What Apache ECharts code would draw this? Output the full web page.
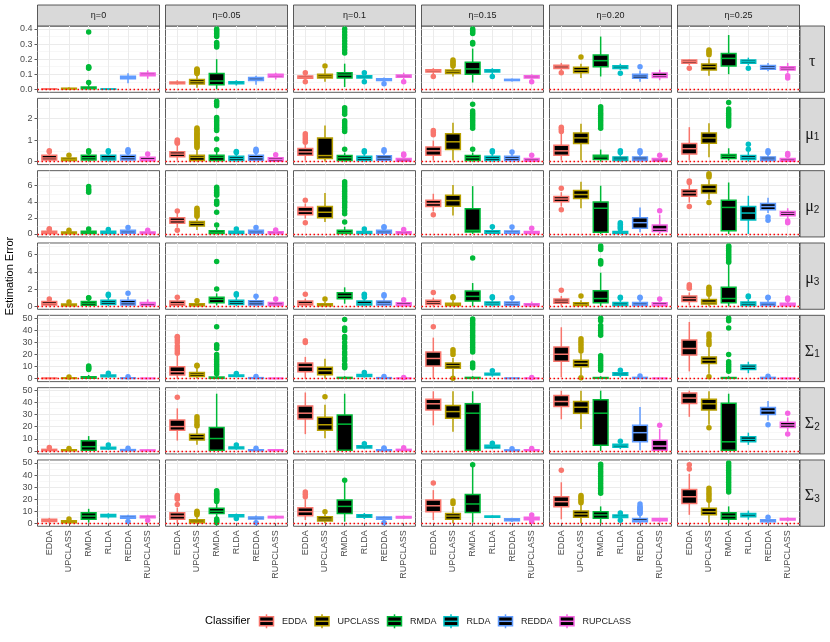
<!DOCTYPE html>
<html>
<head>
<meta charset="utf-8">
<script src="https://cdn.jsdelivr.net/npm/echarts@6/dist/echarts.min.js"></script>
<style>
  html, body { margin: 0; padding: 0; background: #fff; }
  #chart { width: 830px; height: 642px; }
</style>
</head>
<body>
<div id="chart"></div>
<script>
// categories
const classifiers = ['EDDA', 'UPCLASS', 'RMDA', 'RLDA', 'REDDA', 'RUPCLASS'];
const etaLabels = ['η=0', 'η=0.05', 'η=0.1', 'η=0.15', 'η=0.20', 'η=0.25'];
const paramLabels = ['{g|τ}', '{g|μ}{s|1}', '{g|μ}{s|2}', '{g|μ}{s|3}', '{g|Σ}{s|1}', '{g|Σ}{s|2}', '{g|Σ}{s|3}'];

// tick labels per row
const tauTicks = [0, 0.1, 0.2, 0.3, 0.4];
const mu1Ticks = [0, 1, 2];
const mu2Ticks = [0, 2, 4, 6];
const mu3Ticks = [0, 2, 4, 6];
const sigmaTicks = [0, 10, 20, 30, 40, 50];

// boxes: per eta, per classifier [lower whisker, Q1, median, Q3, upper whisker]
const tauBoxes = [
  [[0, 0.001, 0.002, 0.003, 0.005], [0, 0.002, 0.004, 0.007, 0.014], [0, 0.003, 0.008, 0.015, 0.03], [0, 0, 0.001, 0.002, 0.003], [0.04, 0.07, 0.078, 0.087, 0.107], [0.07, 0.09, 0.1, 0.108, 0.125]],
  [[0.03, 0.037, 0.042, 0.048, 0.06], [0.01, 0.035, 0.05, 0.065, 0.1], [0, 0.03, 0.055, 0.105, 0.2], [0.025, 0.036, 0.042, 0.05, 0.06], [0.03, 0.058, 0.068, 0.078, 0.09], [0.065, 0.082, 0.09, 0.1, 0.11]],
  [[0.06, 0.073, 0.08, 0.088, 0.1], [0.05, 0.075, 0.087, 0.1, 0.135], [0.015, 0.075, 0.095, 0.11, 0.17], [0.06, 0.075, 0.082, 0.09, 0.1], [0.05, 0.058, 0.065, 0.07, 0.078], [0.065, 0.08, 0.088, 0.095, 0.11]],
  [[0.1, 0.115, 0.123, 0.13, 0.14], [0.085, 0.105, 0.117, 0.128, 0.145], [0.045, 0.1, 0.135, 0.18, 0.27], [0.1, 0.115, 0.122, 0.13, 0.14], [0.052, 0.058, 0.062, 0.066, 0.072], [0.06, 0.075, 0.082, 0.09, 0.1]],
  [[0.12, 0.138, 0.148, 0.16, 0.175], [0.075, 0.11, 0.128, 0.146, 0.17], [0.085, 0.15, 0.19, 0.227, 0.35], [0.128, 0.138, 0.148, 0.157, 0.17], [0.05, 0.073, 0.088, 0.1, 0.125], [0.06, 0.078, 0.09, 0.108, 0.13]],
  [[0.16, 0.172, 0.184, 0.194, 0.2], [0.09, 0.128, 0.15, 0.168, 0.205], [0.1, 0.155, 0.205, 0.238, 0.36], [0.16, 0.172, 0.183, 0.195, 0.21], [0.12, 0.133, 0.145, 0.158, 0.175], [0.11, 0.128, 0.14, 0.15, 0.175]]
];
const tauOutliers = [
  [[], [], [0.045, 0.14, 0.145, 0.15, 0.38], [], [], []],
  [[], [0.105, 0.11, 0.116, 0.12, 0.125, 0.13, 0.135], [0.28, 0.29, 0.3, 0.31, 0.35, 0.36, 0.37, 0.38, 0.39, 0.4], [], [], []],
  [[0.05, 0.11], [0.155], [0.24, 0.26, 0.28, 0.3, 0.32, 0.34, 0.36, 0.38, 0.4], [0.05, 0.11], [0.037], [0.05]],
  [[0.085], [0.155, 0.165, 0.175, 0.185, 0.195], [0.3, 0.31, 0.37, 0.38, 0.39, 0.4], [0.085], [], [0.05]],
  [[0.11], [0.215], [], [0.106], [0.15], []],
  [[0.14], [0.23, 0.24, 0.25, 0.26], [], [0.14], [], [0.075, 0.09]]
];

const mu1Boxes = [
  [[0, 0.08, 0.17, 0.3, 0.42], [0, 0.05, 0.1, 0.17, 0.27], [0, 0.08, 0.18, 0.3, 0.42], [0, 0.08, 0.17, 0.3, 0.42], [0, 0.08, 0.18, 0.3, 0.42], [0, 0.04, 0.1, 0.2, 0.3]],
  [[0.05, 0.23, 0.35, 0.46, 0.76], [0, 0.05, 0.2, 0.3, 0.62], [0, 0.05, 0.2, 0.3, 0.45], [0, 0.05, 0.15, 0.25, 0.38], [0, 0.06, 0.18, 0.3, 0.42], [0, 0.02, 0.1, 0.18, 0.28]],
  [[0.05, 0.3, 0.45, 0.61, 0.8], [0, 0.15, 0.28, 1.1, 1.68], [0, 0.05, 0.18, 0.28, 0.42], [0, 0.05, 0.15, 0.25, 0.38], [0, 0.06, 0.16, 0.27, 0.4], [0, 0.02, 0.08, 0.15, 0.25]],
  [[0.05, 0.3, 0.5, 0.68, 0.98], [0.05, 0.56, 0.92, 1.3, 1.8], [0, 0.05, 0.18, 0.28, 0.42], [0, 0.05, 0.15, 0.25, 0.38], [0, 0.05, 0.15, 0.25, 0.38], [0, 0.02, 0.07, 0.15, 0.25]],
  [[0.05, 0.3, 0.5, 0.76, 1.3], [0.05, 0.84, 1.1, 1.33, 1.76], [0, 0.1, 0.22, 0.3, 0.56], [0, 0.05, 0.12, 0.22, 0.35], [0, 0.05, 0.12, 0.22, 0.35], [0, 0.02, 0.08, 0.15, 0.25]],
  [[0.05, 0.35, 0.6, 0.84, 1.6], [0.2, 0.85, 1.1, 1.33, 1.78], [0.05, 0.15, 0.25, 0.33, 0.62], [0, 0.1, 0.18, 0.28, 0.45], [0, 0.05, 0.12, 0.22, 0.35], [0, 0.02, 0.07, 0.15, 0.25]]
];
const mu1Outliers = [
  [[0.46, 0.5], [0.3], [0.45, 0.5], [0.46, 0.5], [0.45, 0.5, 0.55], [0.35]],
  [[0.85, 0.9, 0.95, 1.0], [0.66, 0.73, 0.78, 0.85, 0.9, 0.97, 1.03, 1.08, 1.15, 1.2, 1.27, 1.32, 1.38, 1.45, 1.5, 1.56], [0.55, 1.05, 1.45, 1.55, 1.65, 1.75, 1.85, 1.95, 2.05, 2.6, 2.7, 2.8], [0.42, 0.47], [0.47, 0.52, 0.58], [0.32]],
  [[0.9, 1.0, 1.1, 1.2, 1.3], [], [0.58, 1.4, 1.5, 1.6, 1.7, 1.8, 1.9, 2.2, 2.3, 2.4, 2.5], [0.45, 0.5], [0.48, 0.55], [0.3, 0.35]],
  [[1.25, 1.35, 1.45], [], [0.58, 1.55, 1.65, 1.75, 1.85, 1.95, 2.05, 2.15, 2.25, 2.35, 2.67], [0.45, 0.5], [0.45], [0.3]],
  [[1.4, 1.5, 1.6], [], [1.55, 1.65, 1.75, 1.85, 1.95, 2.05, 2.15, 2.25, 2.35, 2.45, 2.55], [0.42, 0.5], [0.42, 0.5], [0.3]],
  [[], [], [1.65, 1.75, 1.85, 1.95, 2.05, 2.15, 2.25, 2.35, 2.45, 2.75], [0.58, 0.81], [0.42, 0.5], [0.3, 0.38]]
];

const mu2Boxes = [
  [[0, 0.05, 0.2, 0.35, 0.5], [0, 0.03, 0.12, 0.25, 0.38], [0, 0.05, 0.2, 0.35, 0.55], [0, 0.05, 0.2, 0.35, 0.5], [0, 0.08, 0.25, 0.45, 0.7], [0, 0.03, 0.12, 0.25, 0.4]],
  [[0.8, 1.33, 1.65, 2.0, 2.6], [0.5, 1.0, 1.33, 1.54, 2.1], [0, 0.05, 0.2, 0.4, 0.75], [0, 0.05, 0.18, 0.35, 0.5], [0, 0.08, 0.25, 0.45, 0.7], [0, 0.03, 0.12, 0.28, 0.45]],
  [[1.9, 2.4, 2.8, 3.33, 3.8], [1.5, 2.0, 2.7, 3.4, 5.1], [0, 0.05, 0.2, 0.45, 0.9], [0, 0.05, 0.15, 0.3, 0.5], [0, 0.08, 0.25, 0.45, 0.7], [0, 0.03, 0.12, 0.28, 0.45]],
  [[2.8, 3.4, 3.8, 4.2, 5.0], [2.3, 3.45, 4.15, 4.8, 6.1], [0, 0.25, 0.45, 3.15, 5.95], [0, 0.1, 0.2, 0.4, 0.8], [0, 0.08, 0.2, 0.38, 0.75], [0, 0.05, 0.15, 0.3, 0.6]],
  [[3.4, 4.0, 4.35, 4.65, 5.2], [3.2, 4.4, 4.9, 5.4, 6.5], [0, 0.2, 3.2, 3.96, 6.0], [0, 0.05, 0.15, 0.3, 0.5], [0.2, 0.7, 1.4, 2.0, 3.3], [0, 0.3, 0.6, 1.1, 2.4]],
  [[3.9, 4.7, 5.1, 5.5, 6.2], [4.3, 5.1, 5.6, 6.1, 6.7], [0, 0.4, 3.3, 4.2, 6.4], [0, 1.75, 2.6, 3.4, 4.75], [2.6, 3.0, 3.4, 3.8, 4.5], [1.7, 2.25, 2.55, 2.8, 3.2]]
];
const mu2Outliers = [
  [[0.55, 0.65], [0.45], [0.6, 5.2, 5.4, 5.6, 5.9], [0.55], [0.8], [0.45]],
  [[0.45, 2.85], [2.2, 2.4, 2.6, 2.8, 3.0, 3.2], [1.1, 2.7, 3.7, 3.9, 4.1, 4.8, 5.0, 5.2, 5.4, 5.6, 5.8], [0.6], [0.8], [0.5]],
  [[1.4, 4.2], [], [1.5, 2.5, 2.9, 3.3, 3.6, 3.9, 4.1, 4.4, 4.7, 5.0, 5.3, 5.6, 5.9, 6.2, 6.5], [0.6], [0.8, 0.9], [0.55]],
  [[2.4], [], [], [0.9], [0.85], [0.7]],
  [[3.0, 5.7], [], [], [0.6, 0.8, 1.0, 1.2, 1.4], [], [2.9]],
  [[3.4, 6.4, 6.6], [3.9, 7.1, 7.3, 7.5], [], [], [1.7, 2.1], [1.4, 1.6]]
];

const mu3Boxes = [
  [[0, 0.15, 0.3, 0.55, 0.7], [0, 0.05, 0.15, 0.25, 0.4], [0, 0.12, 0.35, 0.55, 0.85], [0, 0.2, 0.45, 0.7, 1.1], [0, 0.15, 0.4, 0.7, 1.1], [0, 0.1, 0.3, 0.45, 0.8]],
  [[0, 0.12, 0.3, 0.6, 0.9], [0, 0.05, 0.15, 0.3, 0.55], [0.1, 0.4, 0.8, 1.05, 1.5], [0, 0.2, 0.45, 0.7, 1.1], [0, 0.15, 0.4, 0.65, 1.0], [0, 0.1, 0.25, 0.45, 0.7]],
  [[0, 0.15, 0.3, 0.6, 0.9], [0, 0.05, 0.15, 0.3, 0.55], [0.3, 0.88, 1.2, 1.58, 2.2], [0, 0.15, 0.3, 0.6, 0.95], [0, 0.15, 0.35, 0.6, 0.9], [0, 0.05, 0.2, 0.4, 0.6]],
  [[0, 0.2, 0.45, 0.7, 1.0], [0, 0.08, 0.2, 0.35, 0.7], [0, 0.6, 1.15, 1.77, 2.7], [0, 0.15, 0.3, 0.5, 0.8], [0, 0.12, 0.3, 0.5, 0.8], [0, 0.05, 0.15, 0.3, 0.55]],
  [[0, 0.35, 0.6, 0.85, 1.2], [0, 0.08, 0.2, 0.4, 0.7], [0, 0.42, 0.9, 1.8, 3.9], [0, 0.1, 0.25, 0.45, 0.75], [0, 0.1, 0.25, 0.45, 0.75], [0, 0.05, 0.2, 0.4, 0.7]],
  [[0.1, 0.55, 0.9, 1.2, 1.6], [0, 0.25, 0.45, 0.8, 1.1], [0, 0.42, 0.9, 2.2, 4.85], [0, 0.1, 0.3, 0.5, 0.8], [0, 0.1, 0.28, 0.45, 0.75], [0, 0.05, 0.2, 0.35, 0.6]]
];
const mu3Outliers = [
  [[0.85], [0.5], [0.95, 1.0], [1.25, 1.4], [1.5], []],
  [[1.05], [0.65], [2.0, 5.2], [1.3, 1.45], [1.15], [0.85]],
  [[1.4], [0.85], [], [1.05, 1.3, 1.4], [1.2, 1.35], [0.75]],
  [[1.6], [1.0, 1.1], [5.6], [1.0, 1.1], [1.0], []],
  [[1.85], [1.2], [4.9, 5.1, 5.3, 6.6, 6.8, 7.0], [0.95, 1.05], [0.95, 1.05], [0.85]],
  [[2.1, 2.3, 2.5], [1.4, 1.6, 1.8, 2.0, 2.2], [5.1, 5.3, 5.5, 5.7, 5.9, 6.1, 6.3, 6.5, 6.7, 6.9, 7.0], [1.1, 1.2], [1.0, 1.05], [0.8, 0.95]]
];

const sigma1Boxes = [
  [[0, 0.1, 0.2, 0.4, 0.7], [0, 0.1, 0.3, 0.6, 1.0], [0, 0.2, 0.6, 1.5, 3.0], [0.8, 1.6, 2.2, 3.0, 4.0], [0, 0.1, 0.3, 0.6, 1.2], [0, 0.05, 0.15, 0.3, 0.5]],
  [[0, 3, 5.7, 9.8, 19], [0, 1.8, 3.5, 5.0, 9], [0, 0.2, 0.6, 1.3, 3], [1.0, 1.8, 2.3, 3.0, 3.8], [0, 0.1, 0.4, 0.8, 1.3], [0, 0.05, 0.15, 0.3, 0.5]],
  [[0, 5.7, 9.8, 13, 18], [0, 3.3, 6.6, 9.5, 16.5], [0, 0.2, 0.5, 1.0, 2.0], [0.8, 1.8, 2.5, 3.5, 4.5], [0, 0.1, 0.3, 0.8, 1.2], [0, 0.05, 0.2, 0.4, 0.7]],
  [[0, 10.4, 16.7, 22, 34], [2, 8.5, 10.7, 13, 17], [0, 0.2, 0.5, 1.0, 2.0], [1.5, 3, 3.8, 4.5, 5.8], [0, 0.1, 0.2, 0.4, 0.7], [0, 0.05, 0.2, 0.4, 0.7]],
  [[1, 14.5, 20.2, 26.2, 42.6], [3, 9.8, 12.6, 15.3, 21], [0, 0.2, 0.5, 0.9, 2.0], [1, 2.8, 3.8, 4.8, 6.2], [0, 0.2, 0.6, 1.0, 1.8], [0, 0.05, 0.15, 0.3, 0.5]],
  [[6, 19.5, 25, 32, 47], [4, 12.6, 15.3, 18, 26], [0, 0.2, 0.5, 0.9, 2], [4.5, 7.6, 9.4, 11.2, 14], [0, 0.1, 0.5, 1.0, 1.5], [0, 0.05, 0.15, 0.3, 0.5]]
];
const sigma1Outliers = [
  [[], [1.3], [7.5, 8.5, 9.5, 10.5], [4.5], [1.5], []],
  [[21, 23, 25, 27, 30, 32, 34, 35], [10.5, 11], [4, 6, 8, 10, 12, 14, 16, 18, 20, 25, 27, 28, 43], [4.2], [1.8], []],
  [[30, 31.5], [], [9, 10, 12, 15, 17, 20, 22, 25, 27, 30, 33, 35, 40, 42, 49], [5], [1.8], [0.9]],
  [[43], [0.3, 20, 22, 24], [9, 11, 13, 22, 24, 26, 28, 30, 32, 34, 36, 38, 40, 42, 44, 46, 48, 49.5], [6.5], [], [0.9]],
  [[], [0.8, 23, 25, 27, 29, 31, 33], [7, 9, 11, 13, 15, 17, 19, 36, 38, 40, 42, 44, 48, 50], [7], [2.2], []],
  [[], [1.5, 28, 30, 32, 35, 37], [6, 8, 10, 12, 14, 20, 42, 48, 50], [], [2], []]
];

const sigma2Boxes = [
  [[0, 0.3, 0.8, 1.3, 2.2], [0, 0.2, 0.5, 1.0, 1.6], [0, 0.5, 3.5, 8.3, 12.2], [0.8, 1.6, 2.3, 3.1, 4.2], [0, 0.2, 0.6, 1.1, 1.8], [0, 0.1, 0.4, 0.8, 1.3]],
  [[8.5, 17, 20, 25.4, 35], [5, 9, 11.5, 13.8, 18.5], [0, 0.5, 10.2, 19.3, 47], [1, 1.8, 2.5, 3.3, 4.3], [0, 0.2, 0.6, 1.0, 1.7], [0, 0.2, 0.5, 1.0, 1.5]],
  [[13.8, 26.2, 31, 37, 48], [10.5, 17, 21.5, 27.6, 38], [0, 0.5, 22, 29.5, 47], [1.5, 2.5, 3.3, 4.3, 5.5], [0, 0.2, 0.6, 1.0, 1.6], [0, 0.3, 0.8, 1.3, 2.0]],
  [[21, 33.7, 38.7, 42.5, 49], [15.7, 26.8, 32.3, 37.3, 49], [0, 0.5, 31, 38.7, 49], [1.5, 2.5, 3.5, 4.6, 5.8], [0, 0.2, 0.5, 0.8, 1.3], [0, 0.2, 0.6, 1.0, 1.6]],
  [[26, 36.5, 40.6, 45.6, 49.5], [18, 31, 35.9, 40.6, 49.4], [0, 4.7, 31, 42, 49.5], [1.5, 3, 4.2, 5.5, 7.5], [0.5, 7.5, 15, 21, 36], [0, 0.5, 4, 8.8, 18]],
  [[28, 39, 43.4, 47.5, 49.5], [21.5, 33.7, 38.7, 42.5, 49], [0, 0.5, 7.5, 39.2, 47], [5, 7.5, 9.5, 11.6, 15], [25, 30, 32.9, 35.6, 41], [16, 19.3, 21.3, 23.5, 27.5]]
];
const sigma2Outliers = [
  [[2.8], [2.0], [], [4.8], [2.3], []],
  [[44], [20.5, 22, 24, 26, 28], [], [4.8], [2.2], []],
  [[], [44.5], [], [6], [2.0, 2.5], [2.6]],
  [[], [], [], [6.3], [1.7], [2.0]],
  [[], [], [], [8], [], [21]],
  [[], [19], [], [], [21.5], [14, 31]]
];

const sigma3Boxes = [
  [[0.3, 1.4, 2.3, 3.3, 4.5], [0, 0.5, 1.2, 2.0, 3.0], [0.5, 3.3, 6, 8.8, 12], [4, 5.5, 6.5, 7.3, 8.3], [2.5, 4.2, 5, 6, 7], [3, 4.5, 5.2, 6, 7]],
  [[0, 3.3, 6, 8.8, 13], [0, 0.5, 1.8, 3, 6.5], [4, 8.2, 10, 12.4, 17.5], [4, 5.5, 6.3, 7, 8], [1, 3.5, 4.5, 5.3, 6.5], [3.5, 4.5, 5, 5.7, 6.5]],
  [[2.7, 6.3, 9.6, 12.9, 20], [0, 1.9, 3.5, 5.5, 7.4], [1.3, 8.2, 14, 19.2, 34], [3.5, 5, 6, 7, 8.5], [1.5, 3.3, 4.2, 5.2, 5.8], [3.5, 4.3, 5, 5.6, 6.5]],
  [[2.7, 9.6, 14.5, 19.2, 27.5], [0, 3.3, 6, 8.2, 13.7], [0.5, 9, 16, 23.9, 47], [4.5, 5, 5.5, 6, 6.5], [1, 2, 2.8, 3.8, 4.5], [2, 3, 4, 5, 6]],
  [[3.3, 13.7, 17.9, 22, 34], [0, 5, 7.7, 10.2, 15.5], [0, 4.1, 6.9, 9.6, 14], [3, 4.8, 5.8, 6.8, 8], [0, 1.2, 2.2, 4, 6.5], [0.5, 2, 3, 4, 4.5]],
  [[7, 16.5, 22, 28, 41], [0.5, 7, 9.6, 12.4, 18], [0, 3.3, 6, 8.8, 14], [3, 5.5, 7, 8.2, 10.5], [0, 1.2, 2, 3, 4.5], [1.5, 2.7, 3.3, 4, 5]]
];
const sigma3Outliers = [
  [[], [3.5], [], [], [1.5], [2.5]],
  [[15.5, 20, 21, 22, 23], [7, 8, 9, 10], [0.5, 1.5, 2.5, 3.5, 18, 19, 20, 21, 22, 23, 24, 25, 26, 27], [4], [0.5], []],
  [[22, 24, 26], [9.6], [35.7], [], [0.5], []],
  [[33.5], [16.5, 18.4], [48.5], [], [], [1.5, 6.8]],
  [[44], [17, 18.5, 20, 21.5, 23], [25, 27, 29, 31, 33, 35, 37, 39, 41, 43, 45, 47, 49], [2.5, 8.5], [8, 9, 10, 11, 12, 13, 14, 16], []],
  [[45, 48.5], [19, 21, 23, 25, 27, 29], [26, 28, 30, 32, 34, 36, 38, 40, 42, 44, 46, 48, 50], [], [5], []]
];

// styles
const colors = ['#F8766D', '#B79F00', '#00BA38', '#00BFC4', '#619CFF', '#F564E3'];
const FONT = 'Liberation Sans, Arial, Helvetica, sans-serif';
const SERIF = 'Liberation Serif, DejaVu Serif, serif';

// layout
const PANEL_LEFT = 37.5, COL_STEP = 128, PANEL_W = 122;
const PANEL_TOP = 26, ROW_STEP = 72.33, PANEL_H = 66.3;
const STRIP_TOP = 5, STRIP_RIGHT_W = 24.5;

const rows = [
  { boxes: tauBoxes, outliers: tauOutliers, ticks: tauTicks, digits: 1 },
  { boxes: mu1Boxes, outliers: mu1Outliers, ticks: mu1Ticks, digits: 0 },
  { boxes: mu2Boxes, outliers: mu2Outliers, ticks: mu2Ticks, digits: 0 },
  { boxes: mu3Boxes, outliers: mu3Outliers, ticks: mu3Ticks, digits: 0 },
  { boxes: sigma1Boxes, outliers: sigma1Outliers, ticks: sigmaTicks, digits: 0 },
  { boxes: sigma2Boxes, outliers: sigma2Outliers, ticks: sigmaTicks, digits: 0 },
  { boxes: sigma3Boxes, outliers: sigma3Outliers, ticks: sigmaTicks, digits: 0 }
];

function renderBox(params, api) {
  const x = api.value(0);
  const c = colors[api.value(6)];
  const half = api.size([0.75, 0])[0] / 2;
  const lo = api.coord([x, api.value(1)]);
  const q1 = api.coord([x, api.value(2)]);
  const md = api.coord([x, api.value(3)]);
  const q3 = api.coord([x, api.value(4)]);
  const hi = api.coord([x, api.value(5)]);
  const cx = q1[0];
  const line = { stroke: c, lineWidth: 1.5 };
  return {
    type: 'group',
    children: [
      { type: 'line', shape: { x1: cx, y1: lo[1], x2: cx, y2: q1[1] }, style: line },
      { type: 'line', shape: { x1: cx, y1: q3[1], x2: cx, y2: hi[1] }, style: line },
      { type: 'rect', shape: { x: cx - half, y: q3[1], width: half * 2, height: q1[1] - q3[1] },
        style: { fill: '#000', stroke: c, lineWidth: 1.5 } },
      { type: 'line', shape: { x1: cx - half, y1: md[1], x2: cx + half, y2: md[1] }, style: line }
    ]
  };
}

const grids = [], xAxes = [], yAxes = [], series = [], graphics = [];
const xTicks = classifiers.map((_, k) => k + 1);

rows.forEach((row, r) => {
  const all = [];
  row.boxes.forEach(g => g.forEach(b => all.push(...b)));
  row.outliers.forEach(g => g.forEach(o => all.push(...o)));
  const lo = Math.min(...all), hi = Math.max(...all);
  const pad = (hi - lo) * 0.05;
  const yMin = lo - pad, yMax = hi + pad;
  const step = row.ticks[1] - row.ticks[0];
  const splitNumber = Math.max(1, Math.round((yMax - yMin) / step));
  const top = PANEL_TOP + r * ROW_STEP;

  etaLabels.forEach((eta, c) => {
    const gi = grids.length;
    const left = PANEL_LEFT + c * COL_STEP;
    grids.push({
      left: left, top: top, width: PANEL_W, height: PANEL_H,
      show: true, borderColor: '#333', borderWidth: 0.8, backgroundColor: 'transparent',
      containLabel: false, outerBoundsMode: 'none'
    });
    xAxes.push({
      type: 'value', gridIndex: gi, min: 0.4, max: 6.6, splitNumber: 6,
      axisLine: { show: false },
      axisTick: { show: r === rows.length - 1, length: 3, customValues: xTicks, lineStyle: { color: '#333', width: 0.8 } },
      axisLabel: {
        show: r === rows.length - 1, customValues: xTicks, rotate: 90, margin: 4,
        color: '#4d4d4d', fontSize: 9, fontFamily: FONT,
        showMinLabel: true, showMaxLabel: true,
        formatter: v => (Math.abs(v - Math.round(v)) < 1e-6 && classifiers[Math.round(v) - 1]) || ''
      },
      splitLine: { show: true, lineStyle: { color: '#ebebeb', width: 1 } }
    });
    yAxes.push({
      type: 'value', gridIndex: gi, min: yMin, max: yMax, splitNumber: splitNumber,
      axisLine: { show: false },
      axisTick: { show: c === 0, length: 3, customValues: row.ticks, lineStyle: { color: '#333', width: 0.8 } },
      axisLabel: {
        show: c === 0, customValues: row.ticks, margin: 5,
        color: '#4d4d4d', fontSize: 9, fontFamily: FONT,
        showMinLabel: true, showMaxLabel: true,
        formatter: v => row.ticks.some(t => Math.abs(t - v) < 1e-9) ? v.toFixed(row.digits) : ''
      },
      splitLine: { show: true, lineStyle: { color: '#ebebeb', width: 1 } },
      minorTick: { show: false, splitNumber: 2 },
      minorSplitLine: { show: true, lineStyle: { color: '#f2f2f2', width: 0.6 } }
    });

    series.push({
      type: 'custom', xAxisIndex: gi, yAxisIndex: gi, z: 3,
      renderItem: renderBox, clip: false,
      encode: { x: 0, y: [1, 2, 3, 4, 5] },
      data: row.boxes[c].map((b, k) => [k + 1].concat(b, [k]))
    });
    const pts = [];
    row.outliers[c].forEach((list, k) => list.forEach(v => pts.push([k + 1, v, k])));
    series.push({
      type: 'scatter', xAxisIndex: gi, yAxisIndex: gi, z: 4,
      symbol: 'circle', symbolSize: 5.5, silent: true,
      itemStyle: { color: p => colors[p.value[2]], opacity: 1 },
      data: pts,
      markLine: {
        silent: true, symbol: 'none', animation: false,
        label: { show: false },
        lineStyle: { color: '#ff0000', type: [1.5, 2.5], width: 1.3 },
        data: [{ yAxis: 0 }]
      }
    });

    if (r === 0) {
      graphics.push({
        type: 'rect', shape: { x: left, y: STRIP_TOP, width: PANEL_W, height: PANEL_TOP - STRIP_TOP },
        style: { fill: '#d9d9d9', stroke: '#333', lineWidth: 0.8 }
      });
      graphics.push({
        type: 'text', x: left + PANEL_W / 2, y: (STRIP_TOP + PANEL_TOP) / 2 + 0.5,
        style: { text: eta, fill: '#1a1a1a', font: '9px ' + FONT, align: 'center', verticalAlign: 'middle', textAlign: 'center', textVerticalAlign: 'middle' }
      });
    }
  });

  const sx = PANEL_LEFT + 5 * COL_STEP + PANEL_W + 0.5;
  graphics.push({
    type: 'rect', shape: { x: sx, y: top, width: STRIP_RIGHT_W, height: PANEL_H },
    style: { fill: '#d9d9d9', stroke: '#333', lineWidth: 0.8 }
  });
  graphics.push({
    type: 'text', x: sx + STRIP_RIGHT_W / 2, y: top + PANEL_H / 2,
    style: {
      text: paramLabels[r], fill: '#1a1a1a', align: 'center', verticalAlign: 'middle', textAlign: 'center', textVerticalAlign: 'middle',
      rich: {
        g: { fontSize: 16, fontFamily: SERIF, fill: '#1a1a1a', color: '#1a1a1a', lineHeight: 22, verticalAlign: 'bottom' },
        s: { fontSize: 10, fontFamily: FONT, fill: '#1a1a1a', color: '#1a1a1a', lineHeight: 10, verticalAlign: 'bottom' }
      }
    }
  });
});

// axis title
graphics.push({
  type: 'text', x: 10, y: (PANEL_TOP + PANEL_TOP + 6 * ROW_STEP + PANEL_H) / 2, rotation: Math.PI / 2,
  style: { text: 'Estimation Error', fill: '#000', font: '11px ' + FONT, align: 'center', verticalAlign: 'middle', textAlign: 'center', textVerticalAlign: 'middle' }
});

// legend
const LEG_Y = 621.3;
graphics.push({
  type: 'text', x: 205, y: LEG_Y,
  style: { text: 'Classifier', fill: '#000', font: '11px ' + FONT, align: 'left', verticalAlign: 'middle', textAlign: 'left', textVerticalAlign: 'middle' }
});
const legendTextX = [282, 337.5, 410, 466.5, 521, 582.5];
classifiers.forEach((name, k) => {
  const x0 = legendTextX[k] - 22.5;
  const c = colors[k];
  graphics.push({ type: 'line', shape: { x1: x0 + 7, y1: LEG_Y - 7, x2: x0 + 7, y2: LEG_Y + 7 }, style: { stroke: c, lineWidth: 1.5 } });
  graphics.push({ type: 'rect', shape: { x: x0, y: LEG_Y - 4.5, width: 14, height: 9 }, style: { fill: '#000', stroke: c, lineWidth: 1.5 } });
  graphics.push({ type: 'line', shape: { x1: x0, y1: LEG_Y, x2: x0 + 14, y2: LEG_Y }, style: { stroke: c, lineWidth: 1.5 } });
  graphics.push({
    type: 'text', x: legendTextX[k], y: LEG_Y,
    style: { text: name, fill: '#1a1a1a', font: '9px ' + FONT, align: 'left', verticalAlign: 'middle', textAlign: 'left', textVerticalAlign: 'middle' }
  });
});

const chart = echarts.init(document.getElementById('chart'));
chart.setOption({
  animation: false,
  backgroundColor: '#fff',
  grid: grids,
  xAxis: xAxes,
  yAxis: yAxes,
  series: series,
  graphic: { elements: graphics }
});
</script>
</body>
</html>
